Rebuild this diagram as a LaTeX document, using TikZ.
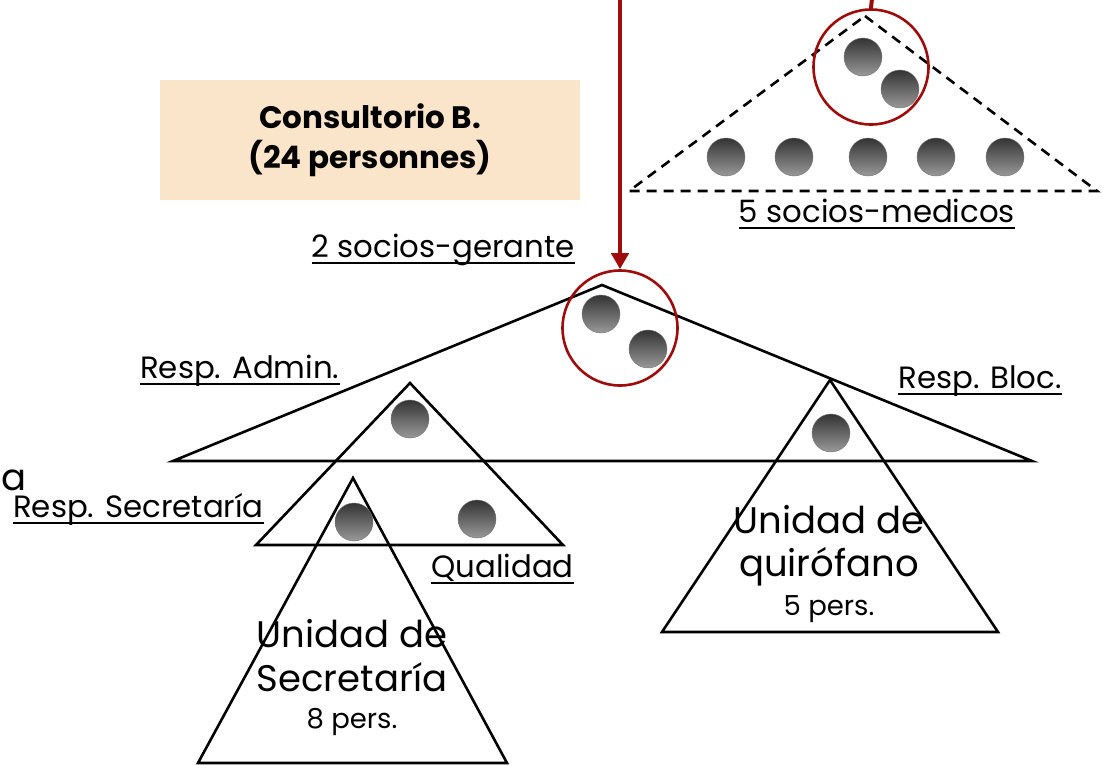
\documentclass[tikz,border=0pt]{standalone}
\usepackage{fontspec}
\setmainfont{Poppins}
\usetikzlibrary{arrows.meta}
\definecolor{dred}{RGB}{158,12,12}
\definecolor{peach}{RGB}{251,229,202}
\tikzset{
  ball/.style={circle,minimum size=38pt,inner sep=0pt,top color=black!80,bottom color=black!40,draw=black!55,line width=0.4pt},
  ring/.style={circle,draw=dred,line width=2.6pt,minimum size=115pt,inner sep=0pt},
  tri/.style={draw=black,line width=2.6pt,line join=miter},
  dtri/.style={draw=black,line width=2.6pt,dash pattern=on 10pt off 7pt},
  lbl/.style={font=\fontsize{30.8}{36}\selectfont,inner sep=0pt},
  big/.style={font=\fontsize{37}{44}\selectfont,inner sep=0pt},
  small/.style={font=\fontsize{27.5}{32}\selectfont,inner sep=0pt},
  uline/.style={line width=1.6pt},
  redline/.style={draw=dred,line width=4pt}
}
\newcommand{\ul}[1]{\draw[uline] ([yshift=-6pt]#1.base west) -- ([yshift=-6pt]#1.base east);}
\begin{document}
\begin{tikzpicture}[x=1pt,y=-1pt]
\useasboundingbox (0,0) rectangle (1103,764);
% box
\node[fill=peach,minimum width=420pt,minimum height=120pt,inner sep=0pt,align=center,
  font=\fontsize{31}{40}\selectfont\bfseries] (box) at (370,140) {Consultorio B.\\(24 personnes)};
% dashed triangle (socios-medicos)
\draw[dtri] (865,16) -- (1097,191) -- (629,191) -- cycle;
\node[ring] (mring) at (871,67) {};
\node[ball] (m1) at (863,57) {};
\node[ball] (m2) at (900,89) {};
\foreach \x [count=\i] in {726,794,868,936,1005}{\node[ball] (r\i) at (\x,157) {};}
\node[lbl,anchor=base] (lmed) at (877,222) {5 socios-medicos};
\ul{lmed}
% big triangle
\draw[tri] (602,285) -- (1032,461) -- (173,461) -- cycle;
% admin triangle
\draw[tri] (410,383) -- (563,545) -- (256,545) -- cycle;
% secretaria triangle
\draw[tri] (353,478) -- (507,763) -- (198,763) -- cycle;
% bloc triangle
\draw[tri] (830,380) -- (998,632) -- (662,632) -- cycle;
% gerente ring
\node[ring] (gring) at (620,328) {};
\node[ball] (g1) at (601,314) {};
\node[ball] (g2) at (648,349) {};
\node[ball] (a1) at (410,419) {};
\node[ball] (s1) at (354,522) {};
\node[ball] (q1) at (477,519) {};
\node[ball] (b1) at (831,433) {};
% red connectors
\coordinate (srcA) at (620,-2);
\coordinate (srcB) at (872,-2);
\draw[redline,-{Triangle[width=17pt,length=16pt]}] (srcA) -- (gring.north);
\draw[redline] (srcB) -- (mring.north);
% labels
\node[lbl,anchor=base east] (lger) at (575,257) {2 socios-gerante};
\ul{lger}
\node[lbl,anchor=base west] (ladm) at (140,378) {Resp. Admin.};
\ul{ladm}
\node[lbl,anchor=base east] (lbloc) at (1062,388) {Resp. Bloc.};
\ul{lbloc}
\node[lbl,anchor=base east] (lqual) at (574,577) {Qualidad};
\ul{lqual}
\node[lbl,anchor=base west] (lsec) at (13,517) {Resp. Secretaría};
\ul{lsec}
\node[big,anchor=base west] (la) at (1,490) {a};
% unit texts
\node[big,anchor=base] (uq1) at (829,533) {Unidad de};
\node[big,anchor=base] (uq2) at (829,576) {quirófano};
\node[small,anchor=base] (uq3) at (829,615) {5 pers.};
\node[big,anchor=base] (us1) at (352,647) {Unidad de};
\node[big,anchor=base] (us2) at (352,691) {Secretaría};
\node[small,anchor=base] (us3) at (352,728) {8 pers.};
\end{tikzpicture}
\end{document}
